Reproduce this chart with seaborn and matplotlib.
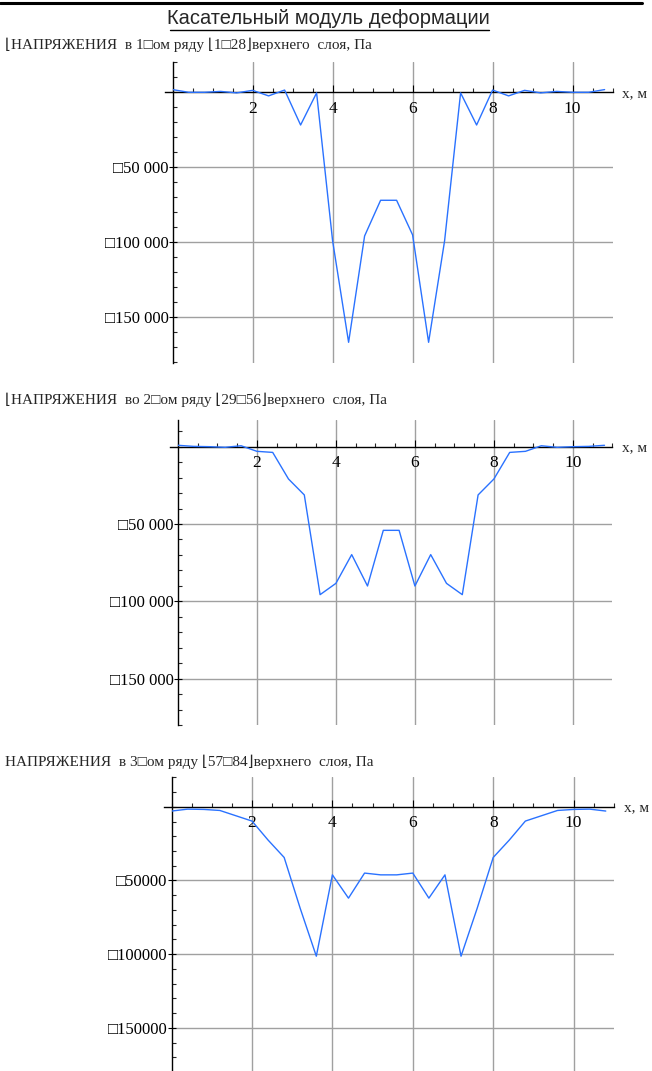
import numpy as np
import pandas as pd
import seaborn as sns
import matplotlib.pyplot as plt
from matplotlib.ticker import MultipleLocator, FixedLocator, FixedFormatter

# x positions of the 28 nodes, m
x_nodes = [0.0, 0.4, 0.8, 1.2, 1.6, 2.0, 2.4, 2.8, 3.2, 3.6, 4.0, 4.4, 4.8, 5.2,
           5.6, 6.0, 6.4, 6.8, 7.2, 7.6, 8.0, 8.4, 8.8, 9.2, 9.6, 10.0, 10.4, 10.8]

# stresses, Pa
row1 = [1800, 0, 0, 600, -400, 1300, -2400, 1500, -21800, -400, -99000, -166700,
        -95800, -72000, -72000, -95100, -166700, -99000, -400, -21800, 1500, -2400,
        1300, -400, 600, 0, 0, 1800]
row2 = [900, 200, 0, -400, 600, -3000, -3700, -20900, -31200, -95700, -88400, -69800,
        -90100, -54100, -54100, -90100, -69800, -88400, -95700, -31200, -20900, -3700,
        -3000, 600, -400, 0, 200, 900]
row3 = [-2900, -1600, -1800, -2500, -6100, -9700, -22600, -34400, -69000, -101400,
        -46200, -62000, -45000, -46200, -46200, -45000, -62000, -46200, -101400,
        -69000, -34400, -22600, -9700, -6100, -2500, -1800, -1600, -2900]

page_title = "Касательный модуль деформации"
panel_titles = ["⌊НАПРЯЖЕНИЯ  в 1□ом ряду ⌊1□28⌋верхнего  слоя, Па",
                "⌊НАПРЯЖЕНИЯ  во 2□ом ряду ⌊29□56⌋верхнего  слоя, Па",
                "НАПРЯЖЕНИЯ  в 3□ом ряду ⌊57□84⌋верхнего  слоя, Па"]
x_ticks = [2, 4, 6, 8, 10]
y_ticks = [-150000, -100000, -50000]
y_labels_spaced = ["□150 000", "□100 000", "□50 000"]
y_labels_plain = ["□150000", "□100000", "□50000"]

W, H = 652, 1071
# left, right, top, bottom in pixels, ylim
boxes = [(172.6, 612.6, 62.3, 363.3, (-180700, 20000)),
         (177.9, 612.4, 420.4, 725.0, (-180000, 17000)),
         (171.6, 613.8, 777.3, 1071.0, (-179300, 20000))]
title_y = [45, 400, 762]

sns.set_theme(style="white")
plt.rcParams['font.family'] = ['Liberation Serif', 'DejaVu Sans']

fig = plt.figure(figsize=(W / 100, H / 100), dpi=100)

# top rule and page title
fig.add_artist(plt.Line2D([0, 0.985], [1 - 2.5 / H, 1 - 2.5 / H], color='black', lw=2.2))
fig.text(0.503, 1 - 19 / H, page_title, ha='center', va='center', fontsize=14.5,
         family=['Liberation Sans', 'DejaVu Sans'])
fig.add_artist(plt.Line2D([170 / W, 489 / W], [1 - 29.5 / H, 1 - 29.5 / H], color='black', lw=1))

blue = '#2a72ff'
rows = [row1, row2, row3]
for i, (vals, box) in enumerate(zip(rows, boxes)):
    l, r, tp, b, ylim = box
    ax = fig.add_axes([l / W, 1 - b / H, (r - l) / W, (b - tp) / H])
    df = pd.DataFrame({'x': x_nodes, 'y': vals})
    sns.lineplot(data=df, x='x', y='y', ax=ax, color=blue, linewidth=1)
    ax.set_xlim(0, 11.0)
    ax.set_ylim(*ylim)
    ax.set_xlabel('')
    ax.set_ylabel('')

    for s in ['top', 'right']:
        ax.spines[s].set_visible(False)
    ax.spines['bottom'].set_position(('data', 0))
    ax.spines['bottom'].set_bounds(-0.2, 11.0)
    ax.spines['bottom'].set_clip_on(False)
    for s in ['left', 'bottom']:
        ax.spines[s].set_color('black')
        ax.spines[s].set_linewidth(1)
        ax.spines[s].set_zorder(1)

    ax.xaxis.set_major_locator(FixedLocator(x_ticks))
    ax.xaxis.set_minor_locator(MultipleLocator(0.5))
    ax.yaxis.set_major_locator(FixedLocator(y_ticks))
    ax.yaxis.set_major_formatter(FixedFormatter(y_labels_plain if i == 2 else y_labels_spaced))
    ax.yaxis.set_minor_locator(MultipleLocator(10000))

    ax.tick_params(axis='x', which='major', direction='in', length=5, width=0.8,
                   labelsize=12.5, pad=6, bottom=True, colors='black')
    ax.tick_params(axis='x', which='minor', direction='in', length=3, width=0.8, bottom=True)
    ax.tick_params(axis='y', which='major', direction='inout', length=6, width=0.8,
                   labelsize=12, pad=0, left=True, colors='black')
    ax.tick_params(axis='y', which='minor', direction='in', length=3, width=0.8, left=True)

    ax.grid(True, which='major', color='#a0a0a0', linewidth=1)
    ax.set_axisbelow(True)
    ax.patch.set_alpha(0)

    ax.annotate('x, м', xy=(11.0, 0), xycoords='data', xytext=(7, -1),
                textcoords='offset points', ha='left', va='center', fontsize=11,
                annotation_clip=False)

    fig.text(5 / W, 1 - title_y[i] / H, panel_titles[i], ha='left', va='center', fontsize=11)

fig.savefig('out.png', dpi=100)
